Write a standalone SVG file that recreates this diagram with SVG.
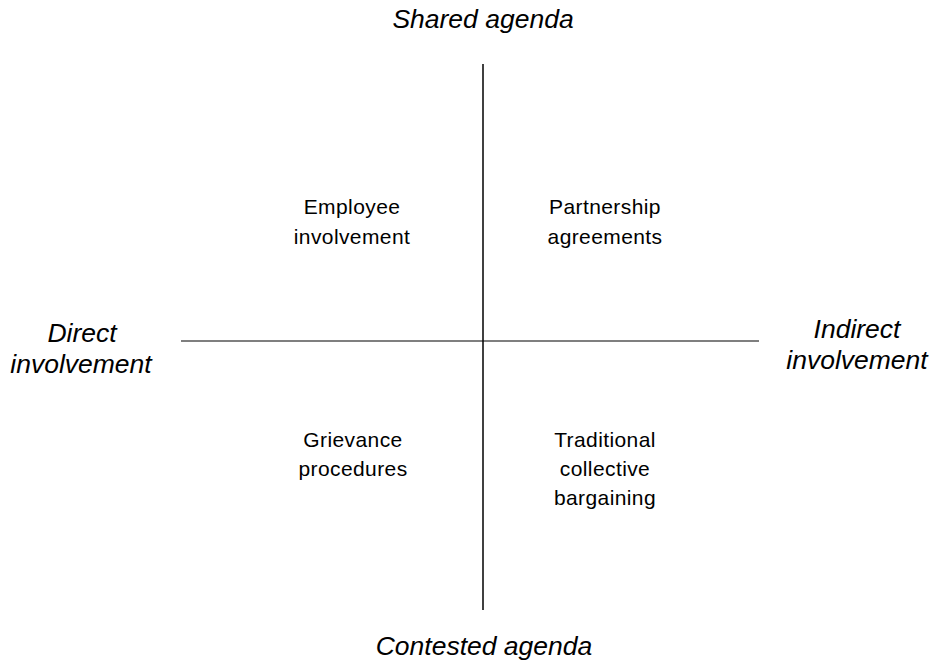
<svg xmlns="http://www.w3.org/2000/svg" width="931" height="661" viewBox="0 0 931 661">
<style>
.axis{font-family:"Liberation Sans",Arial,sans-serif;font-size:26.5px;font-style:italic;fill:#000;text-anchor:middle}
.q{font-family:"Liberation Sans",Arial,sans-serif;font-size:21px;letter-spacing:0.4px;fill:#000;text-anchor:middle}
</style>
<rect width="931" height="661" fill="#fff"/>
<g id="connectors">
<line x1="181" y1="341" x2="759" y2="341" stroke="#555" stroke-width="1.5"/>
<line x1="483" y1="64" x2="483" y2="610" stroke="#000" stroke-width="1.5"/>
</g>
<g id="shared-agenda"><text class="axis" x="483" y="28">Shared agenda</text></g>
<g id="contested-agenda"><text class="axis" x="484" y="655">Contested agenda</text></g>
<g id="direct-involvement"><text class="axis" x="82" y="342">Direct</text><text class="axis" x="81" y="373">involvement</text></g>
<g id="indirect-involvement"><text class="axis" x="857" y="338">Indirect</text><text class="axis" x="857" y="369">involvement</text></g>
<g id="employee-involvement"><text class="q" x="352" y="214">Employee</text><text class="q" x="352" y="244">involvement</text></g>
<g id="partnership-agreements"><text class="q" x="605" y="214">Partnership</text><text class="q" x="605" y="244">agreements</text></g>
<g id="grievance-procedures"><text class="q" x="353" y="447">Grievance</text><text class="q" x="353" y="476">procedures</text></g>
<g id="traditional-collective-bargaining"><text class="q" x="605" y="447">Traditional</text><text class="q" x="605" y="476">collective</text><text class="q" x="605" y="505">bargaining</text></g>
</svg>
